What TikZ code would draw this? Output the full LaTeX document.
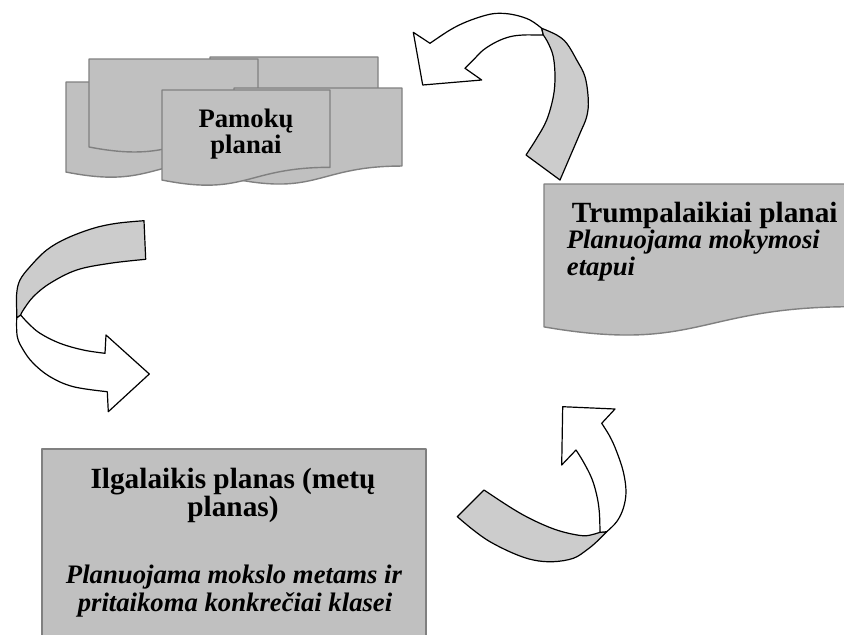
\documentclass[tikz,border=0pt]{standalone}
\usepackage{fontspec}
\setmainfont{Liberation Serif}
\definecolor{pagefill}{RGB}{192,192,192}
\definecolor{pageline}{RGB}{128,128,128}
\definecolor{bandfill}{RGB}{204,204,204}
\tikzset{
  pagestyle/.style={fill=pagefill, draw=pageline, line width=1.4pt, line join=round},
  arrowfront/.style={fill=white, draw=black, line width=1.2pt, line join=round},
  arrowback/.style={fill=bandfill, draw=black, line width=1.2pt, line join=round},
  headtext/.style={font=\bfseries\fontsize{26.7}{30}\selectfont, inner sep=0pt},
  bigtext/.style={font=\bfseries\fontsize{29.3}{33}\selectfont, inner sep=0pt},
  ittext/.style={font=\bfseries\itshape\fontsize{26.7}{30}\selectfont, inner sep=0pt},
  sm/.style={smooth, tension=0.6}
}
\newcommand\pagedoc[4]{%
  \filldraw[pagestyle] (#1,#2) -- (#1+#3,#2) -- (#1+#3,#2+0.802*#4)
    .. controls (#1+0.5*#3,#2+0.802*#4) and (#1+0.5*#3,#2+1.107*#4) .. (#1,#2+0.934*#4) -- cycle;}
\begin{document}
\begin{tikzpicture}[x=1pt,y=-1pt]
\useasboundingbox (0,0) rectangle (844,635);
\clip (0,0) rectangle (844,635);
% multidocument pages
\pagedoc{66}{82}{168}{96.4}
\pagedoc{210}{57}{168}{96}
\pagedoc{89}{59}{169}{94.2}
\pagedoc{234}{88}{168}{97.3}
\pagedoc{162}{90}{168}{96.4}
\node[headtext, anchor=base] (pam1) at (246,127) {Pamokų};
\node[headtext, anchor=base] (pam2) at (246,153) {planai};
% right box
\pagedoc{544}{184}{308}{153}
\node[bigtext, anchor=base west] (tr1) at (571.7,222.7) {Trumpalaikiai planai};
\node[ittext, anchor=base west] (tr2) at (566.7,248.5) {Planuojama mokymosi};
\node[ittext, anchor=base west] (tr3) at (566.7,275.7) {etapui};
% bottom box
\filldraw[pagestyle] (42,449) rectangle (426,660);
\node[bigtext, anchor=base] (il1) at (233,488) {Ilgalaikis planas (metų};
\node[bigtext, anchor=base] (il2) at (233,516.7) {planas)};
\node[ittext, anchor=base] (il3) at (234,583) {Planuojama mokslo metams ir};
\node[ittext, anchor=base] (il4) at (235,611) {pritaikoma konkrečiai klasei};
% arrow 1 (top right)
\filldraw[arrowfront] (413.3,32.3) -- (430,43.3)
  -- plot[sm] coordinates {(430,43.3) (450,30) (466.7,21.7) (486.7,15) (500,13.3) (515,15) (530,20) (541.7,28.3)}
  -- (543.3,35)
  -- plot[sm] coordinates {(543.3,35) (536.7,35) (523.3,35) (510,36.7) (496.7,41.7) (483.3,50) (473.3,60) (465,68.3)}
  -- (481.7,80) -- (422.7,85) -- cycle;
\filldraw[arrowback] (541.7,28.3)
  -- plot[sm] coordinates {(541.7,28.3) (556.7,35) (566.7,43.3) (576.7,60) (585,76.7) (588.3,100) (586.7,116.7) (580,133.3) (570,156.7) (560,180)}
  -- (526,155)
  -- plot[sm] coordinates {(526,155) (536.7,138.3) (546.7,120) (553.3,96.7) (555,76.7) (553.3,56.7) (548.3,43.3) (543.3,35)}
  -- cycle;
% arrow 2 (left)
\filldraw[arrowback] (144,220.7)
  -- plot[sm] coordinates {(144,220.7) (116.7,223.3) (93.3,228.3) (66.7,238.3) (46.7,250) (30,266.7) (20,280) (16.7,293.3) (16.7,310)}
  -- (16.7,318) -- (20.7,315)
  -- plot[sm] coordinates {(20.7,315) (23.3,310) (33.3,296.7) (50,283.3) (76.7,270) (110,263.3) (145.7,259.3)}
  -- cycle;
\filldraw[arrowfront] (16.7,318)
  -- plot[sm] coordinates {(16.7,318) (17.3,336.7) (23.3,350) (33.3,363.3) (50,376.7) (73.3,386.7) (107.3,391.7)}
  -- (108.3,411.7) -- (149.3,374) -- (106,335) -- (105,353.3)
  -- plot[sm] coordinates {(105,353.3) (83.3,350) (60,343.3) (40,333.3) (28.3,323.3) (20.7,315)}
  -- cycle;
% arrow 3 (bottom right)
\filldraw[arrowback] (484,490)
  -- plot[sm] coordinates {(484,490) (506.7,505) (523.3,515) (540,523.3) (556.7,530) (573.3,534.3) (586.7,535.7) (600,532.3)}
  -- (606.7,531.7)
  -- plot[sm] coordinates {(606.7,531.7) (596.7,541.7) (586.7,550) (573.3,558.3) (553.3,561.7) (533.3,560) (513.3,553.3) (490,541.7) (473.3,530) (457.3,516.7)}
  -- cycle;
\filldraw[arrowfront] (606.7,531.7)
  -- plot[sm] coordinates {(606.7,531.7) (616.7,521.7) (623.3,508.3) (626,491.7) (623.3,471.7) (616.7,451.7) (610,436.7) (601.7,423.3)}
  -- (615,409) -- (562.7,406.7) -- (561.7,465) -- (576,450)
  -- plot[sm] coordinates {(576,450) (583.3,461.7) (591.7,478.3) (596.7,495) (599.3,511.7) (600,532.3)}
  -- cycle;
\end{tikzpicture}
\end{document}
